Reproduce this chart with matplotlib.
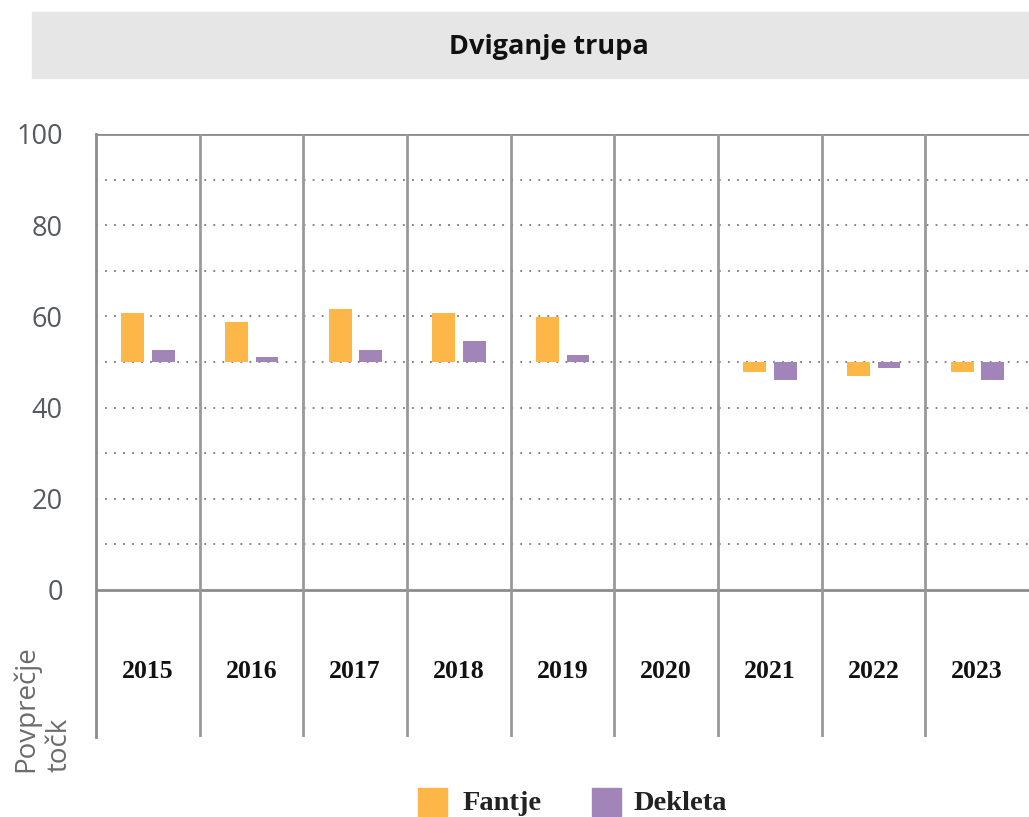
import matplotlib.pyplot as plt
import numpy as np

years = ["2015", "2016", "2017", "2018", "2019", "2020", "2021", "2022", "2023"]
fantje = [60.7, 58.8, 61.7, 60.7, 59.8, np.nan, 47.9, 46.9, 47.9]
dekleta = [52.6, 51.0, 52.6, 54.7, 51.6, np.nan, 46.0, 48.6, 46.0]
baseline = 50
yticks = [0, 20, 40, 60, 80, 100]

orange = "#FDB748"
purple = "#A185B9"
frame = "#8c8c8c"

fig = plt.figure(figsize=(10.29, 8.17), dpi=100)
W, H = 1029, 817

# gray title bar
fig.patches.append(plt.Rectangle((32 / W, 1 - 78 / H), 1 - 32 / W, 66 / H,
                                 transform=fig.transFigure, color="#e6e6e6", zorder=0))
fig.text(549 / W, 1 - 47 / H, "Dviganje trupa", ha="center", va="center",
         fontsize=19.5, fontweight="bold", family="Open Sans", color="#111111")

# axes spans from the 100 line down to the bottom of the year table
ax = fig.add_axes([96 / W, 1 - 737 / H, 1 - 96 / W, (737 - 134) / H])
ymin = -(737 - 590) / ((590 - 134) / 100)
ax.set_ylim(ymin, 100)
ax.set_xlim(-0.5, len(years) - 0.5)

x = np.arange(len(years))
w = 0.22
f_h = np.array(fantje) - baseline
d_h = np.array(dekleta) - baseline
ax.bar(x - 0.145, f_h, w, bottom=baseline, color=orange, zorder=3)
ax.bar(x + 0.15, d_h, w, bottom=baseline, color=purple, zorder=3)

# grid
for g in range(10, 100, 10):
    ax.axhline(g, color="#7a7a7a", lw=1.3, ls=(0, (1, 4)), zorder=1)
ax.axhline(0, color=frame, lw=2, zorder=2)
ax.axhline(100, color=frame, lw=2, zorder=2)
for b in np.arange(0.5, len(years) - 0.5, 1):
    ax.axvline(b, color="#999999", lw=2, zorder=2)

for s in ["top", "right", "bottom"]:
    ax.spines[s].set_visible(False)
ax.spines["left"].set_color(frame)
ax.spines["left"].set_linewidth(2)

ax.set_xticks([])
ax.set_yticks(yticks)
ax.set_yticklabels([str(t) for t in yticks], fontsize=19.5, color="#555a62",
                   family="Open Sans")
ax.tick_params(axis="y", length=0, pad=24)

# year labels in the table below zero
ylab = -(672 - 590) / ((590 - 134) / 100)
for i, yr in enumerate(years):
    ax.text(i, ylab, yr, ha="center", va="center", fontsize=18.5, fontweight="bold",
            family="Liberation Serif", color="#111111")

fig.text(43 / W, 1 - 772 / H, "Povprečje\ntočk", rotation=90, ha="center", va="bottom",
         multialignment="left", fontsize=20, color="#6b6b6b", family="Open Sans",
         linespacing=1.25)

# legend
fig.patches.append(plt.Rectangle((418 / W, 1 - 816 / H), 29 / W, 28 / H,
                                 transform=fig.transFigure, color=orange))
fig.text(463 / W, 1 - 803 / H, "Fantje", ha="left", va="center", fontsize=20.5,
         fontweight="bold", family="Liberation Serif", color="#222222")
fig.patches.append(plt.Rectangle((592 / W, 1 - 816 / H), 29 / W, 28 / H,
                                 transform=fig.transFigure, color=purple))
fig.text(634 / W, 1 - 803 / H, "Dekleta", ha="left", va="center", fontsize=20.5,
         fontweight="bold", family="Liberation Serif", color="#222222")

fig.savefig("out.png", dpi=100)
